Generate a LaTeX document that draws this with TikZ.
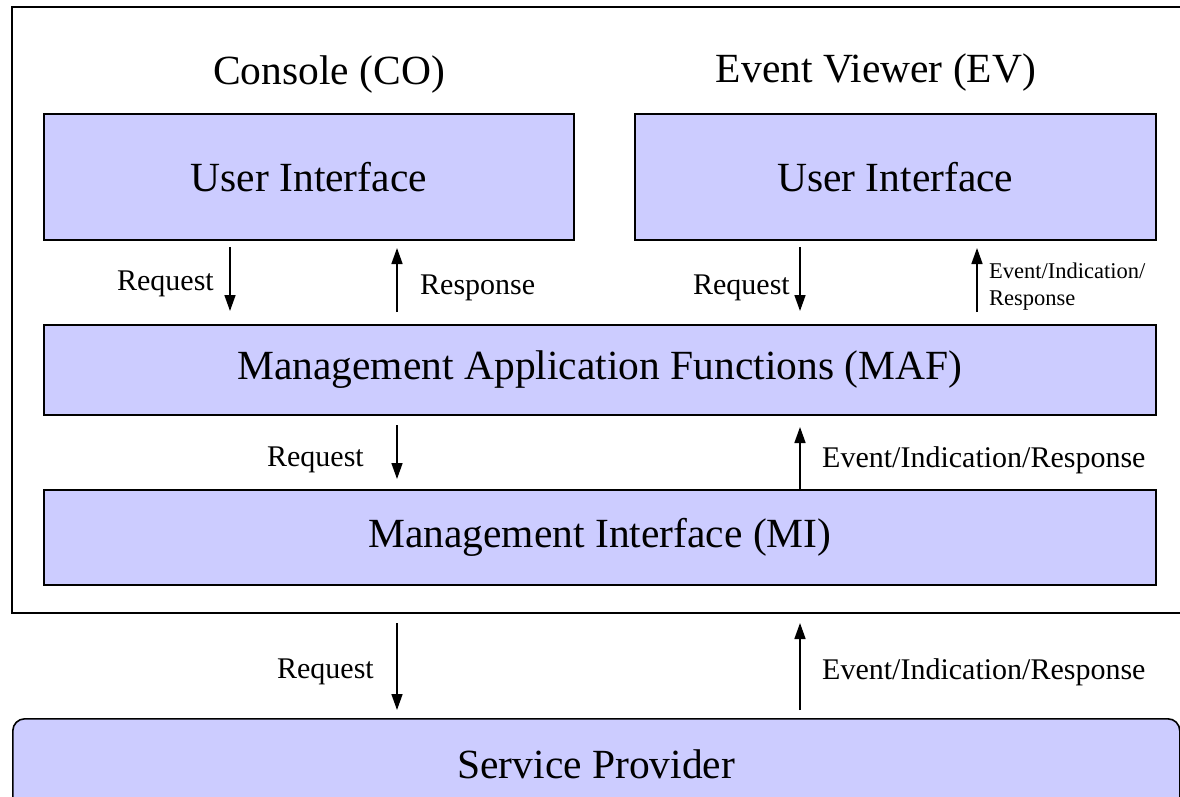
\documentclass[tikz,border=0pt]{standalone}
\usepackage{fontspec}
\setmainfont{Liberation Serif}
\usetikzlibrary{arrows.meta}
\definecolor{boxfill}{HTML}{CCCCFF}
\tikzset{
  box/.style={draw=black, line width=1.6pt, fill=boxfill, inner sep=0pt, anchor=north west,
    font=\fontsize{41.5}{48}\selectfont},
  title/.style={inner sep=0pt, font=\fontsize{41.5}{48}\selectfont},
  lbl/.style={inner sep=0pt, font=\fontsize{30}{34}\selectfont},
  tiny/.style={inner sep=0pt, align=left, font=\fontsize{22.5}{27}\selectfont},
  flow/.style={line width=1.6pt, -{Triangle[length=16pt,width=11pt]}},
}
\begin{document}
\begin{tikzpicture}[x=1pt,y=-1pt]
\clip (0,0) rectangle (1180,797);
\fill[white] (0,0) rectangle (1180,797);
% outer frame
\draw[line width=1.6pt] (12,7) rectangle (1184,613);
% titles
\node[title] (tco) at (329,75) {Console (CO)};
\node[title] (tev) at (876,73) {Event Viewer (EV)};
% boxes
\node[box, minimum width=530pt, minimum height=126pt] (ui1) at (43,113) {User Interface};
\node[box, minimum width=521pt, minimum height=126pt] (ui2) at (634,113) {User Interface};
\node[box, minimum width=1112pt, minimum height=90pt] (maf) at (43,324) {Management Application Functions (MAF)};
\node[box, minimum width=1112pt, minimum height=95pt] (mi) at (43,489) {Management Interface (MI)};
\node[box, rounded corners=12pt, minimum width=1167pt, minimum height=96pt] (sp) at (12,718) {\raisebox{6pt}{Service Provider}};
% arrow end points
\coordinate (a1s) at (230,247); \coordinate (a1e) at (230,311);
\coordinate (a2s) at (397,312); \coordinate (a2e) at (397,248);
\coordinate (a3s) at (800,247); \coordinate (a3e) at (800,311);
\coordinate (a4s) at (977,312); \coordinate (a4e) at (977,248);
\coordinate (a5s) at (397,425); \coordinate (a5e) at (397,479);
\coordinate (a6s) at (800,489); \coordinate (a6e) at (800,427);
\coordinate (a7s) at (397,623); \coordinate (a7e) at (397,710);
\coordinate (a8s) at (800,710); \coordinate (a8e) at (800,623);
\draw[flow] (a1s) -- (a1e);
\draw[flow] (a2s) -- (a2e);
\draw[flow] (a3s) -- (a3e);
\draw[flow] (a4s) -- (a4e);
\draw[flow] (a5s) -- (a5e);
\draw[flow] (a6s) -- (a6e);
\draw[flow] (a7s) -- (a7e);
\draw[flow] (a8s) -- (a8e);
% labels
\node[lbl, anchor=east] (l1) at (214,284) {Request};
\node[lbl, anchor=west] (l2) at (420,288) {Response};
\node[lbl, anchor=east] (l3) at (790,288) {Request};
\node[tiny, anchor=west] (l4) at (989,287) {Event/Indication/\\Response};
\node[lbl, anchor=east] (l5) at (364,460) {Request};
\node[lbl, anchor=west] (l6) at (822,460) {Event/Indication/Response};
\node[lbl, anchor=east] (l7) at (374,672) {Request};
\node[lbl, anchor=west] (l8) at (822,672) {Event/Indication/Response};
\end{tikzpicture}
\end{document}
